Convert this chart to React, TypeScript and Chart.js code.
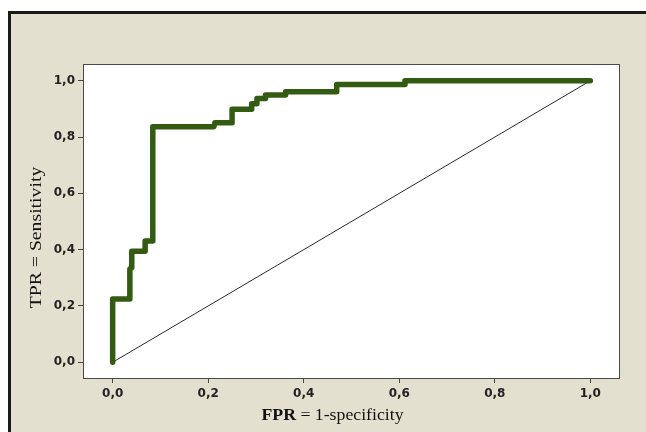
import React, { useEffect, useRef } from "react";
import { Chart, registerables } from "chart.js";

Chart.register(...registerables);

// ROC curve (step points)
const FPR = [0, 0, 0.036, 0.036, 0.040, 0.040, 0.068, 0.068, 0.084, 0.084, 0.212, 0.214, 0.250, 0.250, 0.291, 0.291, 0.302, 0.302, 0.320, 0.320, 0.362, 0.362, 0.469, 0.469, 0.612, 0.612, 1.0];
const TPR = [0, 0.225, 0.225, 0.331, 0.336, 0.394, 0.394, 0.431, 0.431, 0.837, 0.837, 0.851, 0.851, 0.899, 0.899, 0.918, 0.918, 0.937, 0.937, 0.949, 0.949, 0.961, 0.961, 0.987, 0.987, 1.0, 1.0];

// Reference diagonal
const DIAG_X = [0, 1];
const DIAG_Y = [0, 1];

const TICK_VALUES = [0, 0.2, 0.4, 0.6, 0.8, 1.0];
const TICK_LABELS = ["0,0", "0,2", "0,4", "0,6", "0,8", "1,0"];

const X_TITLE_BOLD = "FPR";
const X_TITLE_REST = " = 1-specificity";
const Y_TITLE = "TPR = Sensitivity";

export default function App() {
  const ref = useRef<HTMLCanvasElement | null>(null);

  useEffect(() => {
    const canvas = ref.current;
    if (!canvas) return;

    const frame = {
      id: "frame",
      beforeDraw(chart: any) {
        const { ctx, chartArea } = chart;
        ctx.save();
        ctx.fillStyle = "#ffffff";
        ctx.fillRect(chartArea.left, chartArea.top, chartArea.right - chartArea.left, chartArea.bottom - chartArea.top);
        ctx.restore();
      },
      afterDraw(chart: any) {
        const { ctx, chartArea } = chart;
        ctx.save();
        ctx.strokeStyle = "#4a4a4a";
        ctx.lineWidth = 1;
        ctx.strokeRect(
          Math.round(chartArea.left) - 0.5,
          Math.round(chartArea.top) - 0.5,
          Math.round(chartArea.right - chartArea.left) + 1,
          Math.round(chartArea.bottom - chartArea.top) + 1
        );

        // X title
        ctx.fillStyle = "#111111";
        ctx.textBaseline = "alphabetic";
        ctx.textAlign = "left";
        const boldFont = 'bold 16px "Liberation Serif", "Times New Roman", serif';
        const regFont = '16px "Liberation Serif", "Times New Roman", serif';
        ctx.font = boldFont;
        const w1 = ctx.measureText(X_TITLE_BOLD).width;
        ctx.font = regFont;
        const w2 = ctx.measureText(X_TITLE_REST).width;
        const sx = 142 / (w1 + w2);
        ctx.save();
        ctx.translate(261.5, 419.5);
        ctx.scale(sx, 1);
        ctx.font = boldFont;
        ctx.fillText(X_TITLE_BOLD, 0, 0);
        ctx.font = regFont;
        ctx.fillText(X_TITLE_REST, w1, 0);
        ctx.restore();

        // Y title
        ctx.save();
        ctx.font = regFont;
        const wy = ctx.measureText(Y_TITLE).width;
        ctx.translate(40.5, 237.5);
        ctx.rotate(-Math.PI / 2);
        ctx.scale(141.5 / wy, 1);
        ctx.textAlign = "center";
        ctx.fillText(Y_TITLE, 0, 0);
        ctx.restore();

        ctx.restore();
      },
    };

    const tickFont = { family: '"DejaVu Sans", Verdana, sans-serif', size: 12, weight: "bold" as const };

    const chart = new Chart(canvas, {
      type: "line",
      data: {
        datasets: [
          {
            label: "ROC",
            data: FPR.map((x, i) => ({ x, y: TPR[i] })),
            borderColor: "#335c12",
            borderWidth: 5.5,
            borderCapStyle: "round",
            borderJoinStyle: "round",
            pointRadius: 0,
            tension: 0,
            fill: false,
          },
          {
            label: "Diagonal",
            data: DIAG_X.map((x, i) => ({ x, y: DIAG_Y[i] })),
            borderColor: "#2a2a2a",
            borderWidth: 1,
            pointRadius: 0,
            tension: 0,
            fill: false,
          },
        ],
      },
      options: {
        animation: false,
        responsive: false,
        devicePixelRatio: 1,
        layout: { padding: { left: 0, top: 65, right: 27, bottom: 0 } },
        plugins: {
          legend: { display: false },
          tooltip: { enabled: false },
          title: { display: false },
        },
        scales: {
          x: {
            type: "linear",
            min: -0.06,
            max: 1.06,
            afterBuildTicks(scale: any) {
              scale.ticks = TICK_VALUES.map((v) => ({ value: v }));
            },
            afterFit(scale: any) {
              scale.height = 54;
            },
            border: { display: false },
            grid: { display: true, drawOnChartArea: false, drawTicks: true, tickLength: 5, color: "#444444" },
            ticks: {
              autoSkip: false,
              maxRotation: 0,
              padding: 4,
              color: "#222222",
              font: tickFont,
              callback: (value: any) => {
                const i = TICK_VALUES.findIndex((v) => Math.abs(v - Number(value)) < 1e-9);
                return i >= 0 ? TICK_LABELS[i] : "";
              },
            },
          },
          y: {
            type: "linear",
            min: -0.056,
            max: 1.056,
            afterBuildTicks(scale: any) {
              scale.ticks = TICK_VALUES.map((v) => ({ value: v }));
            },
            afterFit(scale: any) {
              scale.width = 84;
            },
            border: { display: false },
            grid: { display: true, drawOnChartArea: false, drawTicks: true, tickLength: 6, color: "#444444" },
            ticks: {
              autoSkip: false,
              padding: 3,
              color: "#222222",
              font: tickFont,
              callback: (value: any) => {
                const i = TICK_VALUES.findIndex((v) => Math.abs(v - Number(value)) < 1e-9);
                return i >= 0 ? TICK_LABELS[i] : "";
              },
            },
          },
        },
      },
      plugins: [frame],
    });

    return () => chart.destroy();
  }, []);

  return (
    <>
      <div
        style={{
          position: "fixed",
          left: 8,
          top: 11,
          width: 638,
          height: 421,
          boxSizing: "border-box",
          background: "#e4e0d0",
          borderTop: "3px solid #1a1a1a",
          borderLeft: "3px solid #1a1a1a",
        }}
      />
      <canvas
        ref={ref}
        width={646}
        height={432}
        style={{ position: "fixed", left: 0, top: 0, width: 646, height: 432, display: "block" }}
      />
    </>
  );
}
